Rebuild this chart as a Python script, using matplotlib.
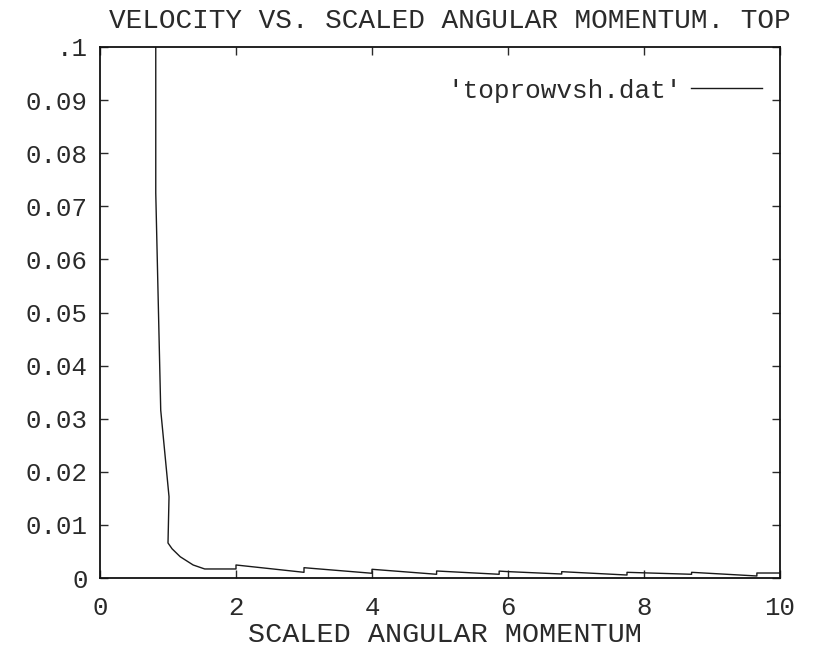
import matplotlib
matplotlib.use("Agg")
import matplotlib.pyplot as plt

# Velocity of the top row versus scaled angular momentum
momentum = [0.82, 0.82, 0.893, 1.015, 1.0, 1.06, 1.18, 1.37, 1.54, 2.0,
            2.0, 3.0, 3.0, 4.0, 4.0, 4.95, 4.95, 5.87, 5.87, 6.0,
            6.79, 6.79, 7.75, 7.75, 8.7, 8.7, 9.66, 9.66, 10.0]
velocity = [0.1, 0.0725, 0.0316, 0.0153, 0.0066, 0.0055, 0.0040, 0.00245, 0.0017, 0.0017,
            0.00245, 0.00107, 0.00194, 0.00089, 0.00164, 0.0007, 0.00132, 0.0007, 0.0013, 0.0012,
            0.00075, 0.00119, 0.00056, 0.00107, 0.0007, 0.00107, 0.00038, 0.00094, 0.00094]

x_ticks = [0, 2, 4, 6, 8, 10]
x_tick_labels = ["0", "2", "4", "6", "8", "10"]
y_ticks = [0, 0.01, 0.02, 0.03, 0.04, 0.05, 0.06, 0.07, 0.08, 0.09, 0.1]
y_tick_labels = ["0", "0.01", "0.02", "0.03", "0.04", "0.05", "0.06", "0.07",
                 "0.08", "0.09", ".1"]

plt.rcParams["font.family"] = ["Liberation Mono", "DejaVu Sans Mono"]
ink = "#2a2a2a"

fig = plt.figure(figsize=(8.14, 6.53), dpi=100)
ax = fig.add_axes([100 / 814, 1 - 578 / 653, 680 / 814, 531 / 653])

ax.plot(momentum, velocity, color="#1a1a1a", linewidth=1.0, label="'toprowvsh.dat'")

ax.set_xlim(0, 10)
ax.set_ylim(0, 0.1)
ax.set_xticks(x_ticks)
ax.set_xticklabels(x_tick_labels)
ax.set_yticks(y_ticks)
ax.set_yticklabels(y_tick_labels)
ax.tick_params(direction="in", length=6, width=1.0, top=True, right=True,
               labelsize=18.5, colors=ink)
ax.tick_params(axis="x", pad=13)
ax.tick_params(axis="y", pad=9)
for s in ax.spines.values():
    s.set_linewidth(1.3)
    s.set_color("#111111")

fig.text(450 / 814, 1 - 21 / 653, "VELOCITY VS. SCALED ANGULAR MOMENTUM. TOP",
         fontsize=20, color=ink, ha="center", va="center")
fig.text(445 / 814, 1 - 635 / 653, "SCALED ANGULAR MOMENTUM",
         fontsize=20.5, color=ink, ha="center", va="center")

ax.legend(loc="upper right", bbox_to_anchor=(1.0, 0.975), frameon=False,
          markerfirst=False, fontsize=18.8, handlelength=2.7,
          handletextpad=0.35, borderaxespad=0.3, labelcolor=ink)

fig.savefig("out.png", dpi=100)
